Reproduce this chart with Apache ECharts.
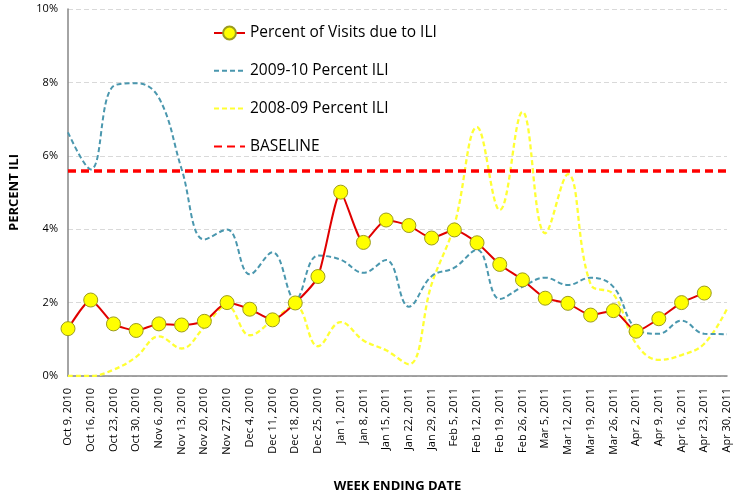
<!DOCTYPE html>
<html lang="en">
<head>
    <meta charset="UTF-8">
    <title>Percent ILI</title>
    <style>
        html, body { margin: 0; padding: 0; background: #fff; }
        #chart { width: 741px; height: 498px; }
    </style>
</head>
<body>
    <div id="chart"></div>
</body>
<script src="https://cdn.jsdelivr.net/npm/echarts@6/dist/echarts.min.js"></script>
<script type="text/javascript">
    // week ending dates
    const weeks = [
        'Oct 9, 2010', 'Oct 16, 2010', 'Oct 23, 2010', 'Oct 30, 2010', 'Nov 6, 2010',
        'Nov 13, 2010', 'Nov 20, 2010', 'Nov 27, 2010', 'Dec 4, 2010', 'Dec 11, 2010',
        'Dec 18, 2010', 'Dec 25, 2010', 'Jan 1, 2011', 'Jan 8, 2011', 'Jan 15, 2011',
        'Jan 22, 2011', 'Jan 29, 2011', 'Feb 5, 2011', 'Feb 12, 2011', 'Feb 19, 2011',
        'Feb 26, 2011', 'Mar 5, 2011', 'Mar 12, 2011', 'Mar 19, 2011', 'Mar 26, 2011',
        'Apr 2, 2011', 'Apr 9, 2011', 'Apr 16, 2011', 'Apr 23, 2011', 'Apr 30, 2011'
    ];

    // percent of visits due to ILI (current season)
    const visitsILI = [
        1.29, 2.07, 1.42, 1.24, 1.42, 1.39, 1.49, 2.00, 1.82, 1.53,
        1.99, 2.71, 5.01, 3.64, 4.25, 4.10, 3.76, 3.98, 3.63, 3.04,
        2.62, 2.12, 1.98, 1.66, 1.78, 1.22, 1.56, 2.00, 2.26, null
    ];

    // 2009-10 season
    const ili0910 = [
        6.64, 5.63, 7.90, 7.98, 7.58, 5.64, 3.72, 3.99, 2.77, 3.37,
        2.08, 3.28, 3.17, 2.81, 3.16, 1.89, 2.72, 2.95, 3.44, 2.10,
        2.43, 2.68, 2.48, 2.68, 2.43, 1.29, 1.15, 1.51, 1.15, 1.14
    ];

    // 2008-09 season
    const ili0809 = [
        0.00, 0.00, 0.17, 0.52, 1.08, 0.75, 1.33, 1.92, 1.11, 1.51,
        1.92, 0.81, 1.47, 0.97, 0.70, 0.32, 2.50, 4.11, 6.78, 4.52,
        7.20, 3.89, 5.50, 2.50, 2.23, 0.88, 0.44, 0.57, 0.88, 1.83
    ];

    const baseline = 5.58;

    const font = 'Open Sans';
    // hides the dot the legend draws for lines without symbols
    const noDot = { color: 'rgba(0,0,0,0)', borderWidth: 0 };

    let chart = echarts.init(document.getElementById('chart'));
    let option = {
        backgroundColor: '#fff',
        animation: false,
        textStyle: { fontFamily: font },
        grid: {
            left: 67,
            right: 14,
            top: 9,
            bottom: 118
        },
        legend: {
            orient: 'vertical',
            left: 208,
            top: 20,
            itemWidth: 31,
            itemHeight: 16,
            itemGap: 21.8,
            textStyle: { fontSize: 15.5, color: '#000', fontFamily: font },
            data: [
                { name: 'Percent of Visits due to ILI' },
                { name: '2009-10 Percent ILI', itemStyle: noDot },
                { name: '2008-09 Percent ILI', itemStyle: noDot },
                { name: 'BASELINE', itemStyle: noDot }
            ]
        },
        xAxis: {
            type: 'category',
            data: weeks,
            boundaryGap: false,
            name: 'WEEK ENDING DATE',
            nameLocation: 'middle',
            nameGap: 104,
            nameTextStyle: { fontWeight: 'bold', fontSize: 13, color: '#000' },
            axisLine: { lineStyle: { color: '#868686', width: 1.5 } },
            axisTick: { show: false },
            axisLabel: {
                rotate: 90,
                interval: 0,
                fontSize: 11,
                color: '#000',
                margin: 12
            }
        },
        yAxis: {
            type: 'value',
            min: 0,
            max: 10,
            interval: 2,
            name: 'PERCENT ILI',
            nameLocation: 'middle',
            nameGap: 47,
            nameTextStyle: { fontWeight: 'bold', fontSize: 13, color: '#000' },
            axisLine: { show: true, lineStyle: { color: '#868686', width: 1.5 } },
            axisTick: { show: false },
            axisLabel: {
                formatter: '{value}%',
                fontSize: 11,
                color: '#000',
                margin: 10
            },
            splitLine: { lineStyle: { color: '#d9d9d9', type: [5, 3] } }
        },
        series: [{
            name: 'Percent of Visits due to ILI',
            type: 'line',
            data: visitsILI,
            smooth: 0.2,
            z: 5,
            symbol: 'circle',
            symbolSize: 14,
            lineStyle: { color: '#e00000', width: 2 },
            itemStyle: { color: '#ffff00', borderColor: '#9c9c1e', borderWidth: 1 }
        }, {
            name: '2009-10 Percent ILI',
            type: 'line',
            data: ili0910,
            smooth: 0.4,
            showSymbol: false,
            symbol: 'none',
            z: 3,
            itemStyle: { color: '#4a97ae' },
            lineStyle: { color: '#4a97ae', width: 2, type: [5, 3] }
        }, {
            name: '2008-09 Percent ILI',
            type: 'line',
            data: ili0809,
            smooth: 0.4,
            showSymbol: false,
            symbol: 'none',
            z: 2,
            itemStyle: { color: '#ffff33' },
            lineStyle: { color: '#ffff33', width: 2.3, type: [5, 3] }
        }, {
            name: 'BASELINE',
            type: 'line',
            data: [],
            symbol: 'none',
            z: 4,
            itemStyle: { color: '#ff0000' },
            lineStyle: { color: '#ff0000', width: 3.5, type: [8, 5] },
            markLine: {
                silent: true,
                symbol: 'none',
                label: { show: false },
                lineStyle: { color: '#ff0000', width: 3.5, type: [8, 5] },
                data: [{ yAxis: baseline }]
            }
        }]
    };
    chart.setOption(option);
</script>
</html>
